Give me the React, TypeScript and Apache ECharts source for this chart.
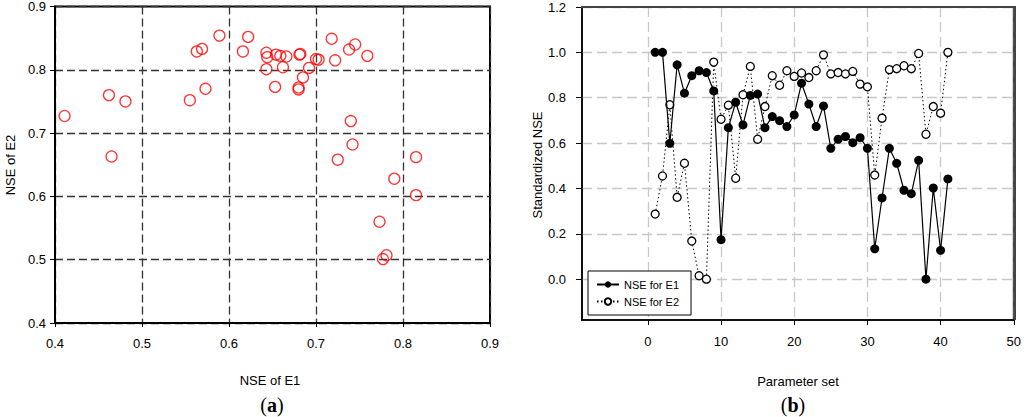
import React, { useEffect, useRef } from "react";
import * as echarts from "echarts";

// Panel (a): NSE of E1 vs NSE of E2 for the 41 parameter sets
const nseE1: number[] = [
  0.411, 0.462, 0.481, 0.465, 0.555, 0.573, 0.563, 0.569, 0.589, 0.616,
  0.622, 0.643, 0.644, 0.643, 0.654, 0.653, 0.659, 0.666, 0.662, 0.682,
  0.681, 0.685, 0.680, 0.680, 0.692, 0.700, 0.703, 0.718, 0.722, 0.738,
  0.745, 0.759, 0.740, 0.742, 0.725, 0.815, 0.790, 0.815, 0.773, 0.781,
  0.777,
];
const nseE2: number[] = [
  0.727, 0.760, 0.750, 0.663, 0.752, 0.770, 0.829, 0.833, 0.854, 0.829,
  0.852, 0.827, 0.820, 0.801, 0.824, 0.773, 0.822, 0.821, 0.804, 0.825,
  0.824, 0.788, 0.772, 0.769, 0.803, 0.817, 0.816, 0.849, 0.815, 0.832,
  0.840, 0.822, 0.719, 0.682, 0.658, 0.662, 0.628, 0.602, 0.560, 0.507,
  0.501,
];

// Panel (b): standardized NSE per parameter set
const paramSets: number[] = Array.from({ length: 41 }, (_, i) => i + 1);
const stdE1: number[] = [
  1.0, 1.0, 0.599, 0.945, 0.82, 0.897, 0.919, 0.911, 0.83, 0.174,
  0.668, 0.78, 0.68, 0.81, 0.816, 0.668, 0.717, 0.699, 0.673, 0.724,
  0.864, 0.772, 0.673, 0.764, 0.577, 0.617, 0.629, 0.602, 0.624, 0.577,
  0.134, 0.358, 0.577, 0.511, 0.392, 0.377, 0.524, 0.0, 0.402, 0.127,
  0.442,
];
const stdE2: number[] = [
  0.287, 0.455, 0.769, 0.361, 0.511, 0.168, 0.015, 0.0, 0.957, 0.705,
  0.767, 0.445, 0.813, 0.938, 0.617, 0.761, 0.897, 0.855, 0.919, 0.894,
  0.909, 0.889, 0.919, 0.989, 0.905, 0.911, 0.905, 0.916, 0.86, 0.848,
  0.459, 0.71, 0.924, 0.928, 0.941, 0.928, 0.995, 0.639, 0.761, 0.732,
  1.0,
];

const xTicksB: number[] = [0, 10, 20, 30, 40, 50];
const yTicksB: number[] = [0, 0.2, 0.4, 0.6, 0.8, 1.0, 1.2];

const FONT = "Arial, 'Liberation Sans', sans-serif";
const SERIF = "'Times New Roman', 'Liberation Serif', serif";

export default function App() {
  const ref = useRef<HTMLDivElement>(null);

  useEffect(() => {
    if (!ref.current) return;
    const chart = echarts.init(ref.current, null, { renderer: "svg" });
    const tickLabel = { fontFamily: FONT, fontSize: 13, color: "#000" };

    chart.setOption({
      animation: false,
      backgroundColor: "#fff",
      grid: [
        {
          left: 55, top: 6, width: 435, height: 317,
          show: true, borderColor: "#000", borderWidth: 2, backgroundColor: "transparent",
        },
        {
          left: 582, top: 7, width: 433, height: 313,
          show: true, borderColor: "#444", borderWidth: 2, backgroundColor: "transparent",
        },
      ],
      xAxis: [
        {
          type: "value", gridIndex: 0, min: 0.4, max: 0.9, interval: 0.1,
          axisLine: { show: true, lineStyle: { color: "#000", width: 2 } },
          axisTick: { show: true, inside: false, length: 4, lineStyle: { color: "#000", width: 1 } },
          axisLabel: { ...tickLabel, margin: 14, formatter: (v: number) => v.toFixed(1) },
          splitLine: { show: true, lineStyle: { color: "#333", type: [8, 4], width: 1.3 } },
        },
        {
          type: "value", gridIndex: 1, min: -9, max: 50,
          axisLine: { show: true, onZero: false, lineStyle: { color: "#000", width: 1.5 } },
          axisTick: { show: true, length: 5, customValues: xTicksB, lineStyle: { color: "#000", width: 1 } },
          axisLabel: { ...tickLabel, margin: 15, customValues: xTicksB, formatter: (v: number) => String(v) },
          splitLine: { show: true, lineStyle: { color: "#c8c8c8", type: [10, 5], width: 1.3 } },
        },
      ],
      yAxis: [
        {
          type: "value", gridIndex: 0, min: 0.4, max: 0.9, interval: 0.1,
          axisLine: { show: true, lineStyle: { color: "#000", width: 2 } },
          axisTick: { show: true, length: 5, lineStyle: { color: "#000", width: 1 } },
          axisLabel: { ...tickLabel, margin: 9, formatter: (v: number) => v.toFixed(1) },
          splitLine: { show: true, lineStyle: { color: "#333", type: [8, 4], width: 1.3 } },
        },
        {
          type: "value", gridIndex: 1, min: -0.18, max: 1.2,
          axisLine: { show: true, onZero: false, lineStyle: { color: "#000", width: 1.5 } },
          axisTick: { show: true, length: 6, customValues: yTicksB, lineStyle: { color: "#000", width: 1 } },
          axisLabel: { ...tickLabel, margin: 16, customValues: yTicksB, formatter: (v: number) => v.toFixed(1) },
          splitLine: { show: true, lineStyle: { color: "#c8c8c8", type: [10, 5], width: 1.3 } },
        },
      ],
      legend: {
        show: true,
        orient: "vertical",
        left: 588,
        top: 271,
        data: ["NSE for E1", "NSE for E2"],
        backgroundColor: "#fff",
        borderColor: "#000",
        borderWidth: 1,
        padding: [8, 12, 8, 8],
        itemGap: 6,
        itemWidth: 22,
        itemHeight: 8,
        textStyle: { fontFamily: FONT, fontSize: 11, color: "#000", padding: [1, 0, 0, 0] },
      },
      series: [
        {
          type: "scatter",
          xAxisIndex: 0, yAxisIndex: 0,
          symbol: "circle",
          symbolSize: 11,
          itemStyle: { color: "transparent", borderColor: "#ff0000", borderWidth: 1.3 },
          data: nseE1.map((v, i) => [v, nseE2[i]]),
          z: 3,
        },
        {
          name: "NSE for E2",
          type: "line",
          xAxisIndex: 1, yAxisIndex: 1,
          symbol: "circle",
          symbolSize: 8,
          lineStyle: { color: "#000", width: 1, type: [1.5, 2.5] },
          itemStyle: { color: "#fff", borderColor: "#000", borderWidth: 1.3 },
          data: paramSets.map((p, i) => [p, stdE2[i]]),
          z: 3,
        },
        {
          name: "NSE for E1",
          type: "line",
          xAxisIndex: 1, yAxisIndex: 1,
          symbol: "circle",
          symbolSize: 9,
          lineStyle: { color: "#000", width: 1.2 },
          itemStyle: { color: "#000", borderColor: "#000", borderWidth: 0 },
          data: paramSets.map((p, i) => [p, stdE1[i]]),
          z: 4,
        },
      ],
      graphic: [
        {
          type: "line", z: 100,
          shape: { x1: 581, y1: 7, x2: 1016, y2: 7 },
          style: { stroke: "#444", lineWidth: 2 },
        },
        {
          type: "line", z: 100,
          shape: { x1: 1015, y1: 6, x2: 1015, y2: 320 },
          style: { stroke: "#444", lineWidth: 2 },
        },
        {
          type: "text", x: 270, y: 380,
          style: { text: "NSE of E1", fontFamily: FONT, fontSize: 13, fill: "#000", align: "center", verticalAlign: "middle" },
        },
        {
          type: "text", x: 10, y: 165, rotation: Math.PI / 2,
          style: { text: "NSE of E2", fontFamily: FONT, fontSize: 13, fill: "#000", align: "center", verticalAlign: "middle" },
        },
        {
          type: "text", x: 798, y: 381,
          style: { text: "Parameter set", fontFamily: FONT, fontSize: 13, fill: "#000", align: "center", verticalAlign: "middle" },
        },
        {
          type: "text", x: 537, y: 165, rotation: Math.PI / 2,
          style: { text: "Standardized NSE", fontFamily: FONT, fontSize: 13, fill: "#000", align: "center", verticalAlign: "middle" },
        },
        {
          type: "text", x: 272, y: 405,
          style: {
            text: "({b|a})", fontFamily: SERIF, fontSize: 20, fill: "#000", align: "center", verticalAlign: "middle",
            rich: { b: { fontFamily: SERIF, fontSize: 20, fontWeight: "bold", fill: "#000" } },
          },
        },
        {
          type: "text", x: 793, y: 405,
          style: {
            text: "({b|b})", fontFamily: SERIF, fontSize: 20, fill: "#000", align: "center", verticalAlign: "middle",
            rich: { b: { fontFamily: SERIF, fontSize: 20, fontWeight: "bold", fill: "#000" } },
          },
        },
      ],
    });

    return () => chart.dispose();
  }, []);

  return (
    <div
      ref={ref}
      style={{ position: "fixed", left: 0, top: 0, width: 1024, height: 417, background: "#fff" }}
    />
  );
}
